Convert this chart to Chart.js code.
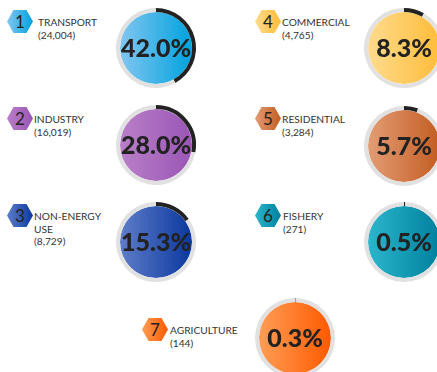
<!DOCTYPE html>
<html lang="en">
<head>
<meta charset="UTF-8">
<title>Energy consumption by sector</title>
<script src="https://cdn.jsdelivr.net/npm/chart.js"></script>
<style>
  html, body { margin: 0; padding: 0; background: #fff; }
  #page { position: relative; width: 437px; height: 372px; overflow: hidden; }
  .hex { position: absolute; width: 26px; height: 23px; }
  .lbl {
    position: absolute; width: 72px;
    font-family: Lato, "Open Sans", sans-serif; font-size: 10.2px; line-height: 12.5px;
    color: #333;
  }
  .ring { position: absolute; }
</style>
</head>
<body>
<div id="page"></div>
<script>
// sectors and their consumption
const categories = ['TRANSPORT', 'INDUSTRY', 'NON-ENERGY USE', 'COMMERCIAL', 'RESIDENTIAL', 'FISHERY', 'AGRICULTURE'];
const values = [24004, 16019, 8729, 4765, 3284, 271, 144];
const colorsFrom = ['#82c6ef', '#b97fc8', '#5f7dc9', '#ffdb8e', '#e39d74', '#2bb6cc', '#ff9d55'];
const colorsTo = ['#00a2df', '#9a56b5', '#0a389e', '#ffbc38', '#c35c22', '#00809d', '#ff5a00'];

// where each block sits: hex centre, label left, ring centre
const layout = [
    { hx: 20, hy: 21, lx: 38, cx: 156, cy: 48 },
    { hx: 20, hy: 118, lx: 34, cx: 156, cy: 145 },
    { hx: 20, hy: 215, lx: 34, cx: 156, cy: 242 },
    { hx: 268, hy: 21, lx: 282, cx: 404, cy: 48 },
    { hx: 268, hy: 118, lx: 282, cx: 404, cy: 146 },
    { hx: 268, hy: 215, lx: 283, cx: 404, cy: 242 },
    { hx: 155, hy: 329, lx: 170, cx: 295, cy: 338 }
];

const total = values.reduce((a, b) => a + b, 0);
const page = document.getElementById('page');
const SIZE = 90;

// percentage written in the middle of the ring
const centerText = {
    id: 'centerText',
    afterDraw(chart) {
        const ctx = chart.ctx;
        const txt = chart.options.plugins.centerText.text;
        const x = (chart.chartArea.left + chart.chartArea.right) / 2;
        const y = (chart.chartArea.top + chart.chartArea.bottom) / 2;
        let size = 25;
        ctx.save();
        ctx.font = '900 ' + size + 'px Lato, sans-serif';
        const w = ctx.measureText(txt).width;
        if (w > 71) {
            size = size * 71 / w;
            ctx.font = '900 ' + size + 'px Lato, sans-serif';
        }
        ctx.fillStyle = '#222';
        ctx.textAlign = 'center';
        ctx.textBaseline = 'middle';
        ctx.fillText(txt, x, y + 1);
        ctx.restore();
    }
};

categories.forEach(function (name, i) {
    const pos = layout[i];
    const pct = values[i] / total * 100;

    // hexagon badge
    const svgNS = 'http://www.w3.org/2000/svg';
    const svg = document.createElementNS(svgNS, 'svg');
    svg.setAttribute('class', 'hex');
    svg.setAttribute('viewBox', '0 0 26 23');
    svg.style.left = (pos.hx - 13) + 'px';
    svg.style.top = (pos.hy - 11.5) + 'px';
    svg.innerHTML =
        '<defs><linearGradient id="g' + i + '" x1="0" x2="1" y1="0" y2="0">' +
        '<stop offset="0" stop-color="' + colorsFrom[i] + '"/>' +
        '<stop offset="1" stop-color="' + colorsTo[i] + '"/></linearGradient></defs>' +
        '<polygon points="0,11.5 6.5,0 19.5,0 26,11.5 19.5,23 6.5,23" fill="url(#g' + i + ')"/>' +
        '<text x="13" y="17.5" text-anchor="middle" font-family="Lato, sans-serif" font-size="17" fill="#222">' + (i + 1) + '</text>';
    page.appendChild(svg);

    // name and amount
    const lbl = document.createElement('div');
    lbl.className = 'lbl';
    lbl.style.left = pos.lx + 'px';
    lbl.style.top = (pos.hy - 5) + 'px';
    lbl.innerHTML = name + '<br>(' + values[i].toLocaleString('en-US') + ')';
    page.appendChild(lbl);

    // ring chart
    const cv = document.createElement('canvas');
    cv.className = 'ring';
    cv.width = SIZE;
    cv.height = SIZE;
    cv.style.left = (pos.cx - SIZE / 2) + 'px';
    cv.style.top = (pos.cy - SIZE / 2) + 'px';
    page.appendChild(cv);

    new Chart(cv, {
        type: 'doughnut',
        data: {
            labels: [name, ''],
            datasets: [{
                data: [pct, 100 - pct],
                backgroundColor: ['#222222', '#e1e1e1'],
                borderWidth: 0,
                weight: 1
            }, {
                data: [1],
                backgroundColor: function (c) {
                    const a = c.chart.chartArea;
                    if (!a) return colorsTo[i];
                    const g = c.chart.ctx.createLinearGradient(a.left + 4, 0, a.right - 4, 0);
                    g.addColorStop(0, colorsFrom[i]);
                    g.addColorStop(1, colorsTo[i]);
                    return g;
                },
                borderWidth: 0,
                weight: 9
            }]
        },
        options: {
            responsive: false,
            animation: false,
            cutout: 0,
            layout: { padding: 5 },
            plugins: {
                legend: { display: false },
                tooltip: { enabled: false },
                centerText: { text: pct.toFixed(1) + '%' }
            }
        },
        plugins: [centerText]
    });
});
</script>
</body>
</html>
